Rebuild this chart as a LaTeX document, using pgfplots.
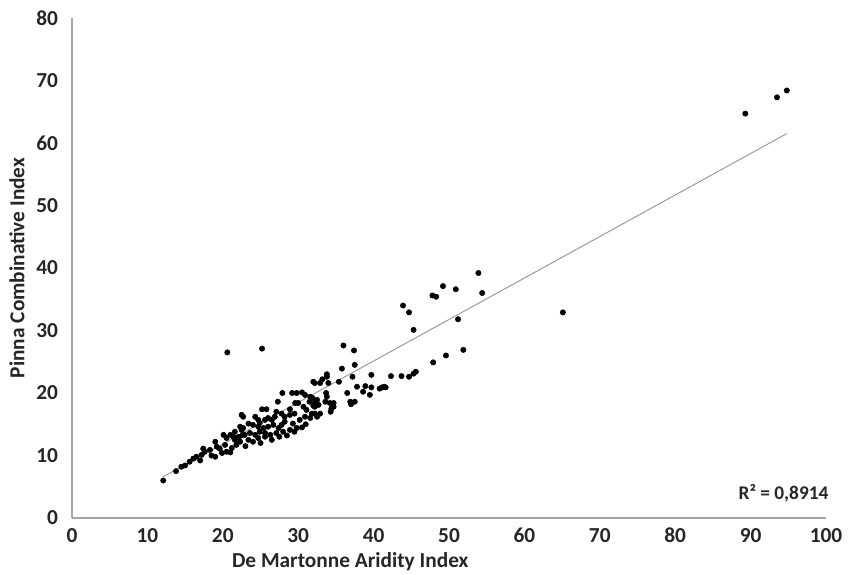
\documentclass[border=0pt]{standalone}
\usepackage{pgfplots}
\pgfplotsset{compat=1.18}
\usepackage{fontspec}
\setmainfont{Carlito}

\definecolor{axgray}{HTML}{A6A6A6}
\definecolor{txt}{HTML}{262626}

\begin{document}
\begin{tikzpicture}
  % picture frame: 866 x 574 px at 0.75pt per px
  \useasboundingbox (-54pt,-42pt) rectangle (595.5pt,388.5pt);
  \begin{axis}[
    at={(0,0)}, anchor=south west,
    scale only axis,
    width=565.5pt, height=375pt,
    xmin=0, xmax=100, ymin=0, ymax=80,
    xtick={0,10,...,100}, ytick={0,10,...,80},
    axis lines=left,
    axis line style={-, axgray, line width=0.9pt},
    major tick length=0pt,
    tick label style={font=\fontsize{16}{19}\selectfont\bfseries, text=txt},
    /pgf/number format/assume math mode=true,
    yticklabel style={xshift=-7pt},
    xticklabel style={yshift=-4pt},
    xlabel={De Martonne Aridity Index},
    ylabel={Pinna Combinative Index},
    label style={font=\fontsize{16}{19}\selectfont\bfseries, text=txt},
    xlabel style={at={(axis description cs:0.369,0)}, anchor=north, yshift=-22pt},
    ylabel style={at={(axis description cs:0,0.5)}, anchor=south, yshift=32pt},
    clip=false,
  ]

  % linear trend line
  \addplot[color=axgray!90!black, line width=0.7pt] coordinates {(12.1,6.6) (94.8,61.5)};

  % observations
  \addplot[only marks, mark=*, mark size=2pt, black] coordinates {
    (94.8,68.4) (93.5,67.3) (89.3,64.7)
    (65.1,32.9)
    (53.9,39.2) (54.4,36.0) (51.2,31.8) (51.9,26.9)
    (49.2,37.1) (50.9,36.6) (47.8,35.6) (48.3,35.4)
    (49.6,26.0) (47.9,24.9)
    (43.9,34.0) (44.7,32.9) (45.3,30.1)
    (45.3,23.1) (45.6,23.4) (44.7,22.6) (43.7,22.7) (42.3,22.7)
    (41.6,20.9) (41.4,21.0) (41.1,20.9) (40.8,20.7)
    (39.7,22.9) (39.7,20.9) (38.9,21.1) (37.8,21.0) (38.6,20.2) (39.5,19.7)
    (36.0,27.6) (37.4,26.8) (37.5,24.5) (35.8,23.9) (37.2,22.6)
    (33.8,23.0) (33.8,22.6) (34.0,21.6) (32.9,21.6) (35.4,21.8) (32.2,21.6)
    (36.5,20.0) (33.7,20.0) (33.8,19.4)
    (34.7,18.4) (34.7,17.8) (36.9,18.6) (37.0,18.2) (37.5,18.6)
    (32.5,18.9) (32.2,18.4) (32.7,18.1) (33.6,18.6) (34.2,18.4) (34.4,17.5) (34.3,17.0) (32.2,16.7)
    (20.6,26.5) (25.2,27.1)
    (32.0,21.8) (33.2,22.2) (27.9,20.0) (29.2,20.0) (29.8,20.0) (30.5,20.1) (30.9,19.7) (31.6,19.4) (31.9,19.2)
    (27.3,18.6) (29.6,18.4) (30.0,18.4) (31.5,18.6) (32.0,18.0)
    (25.2,17.4) (25.8,17.4) (27.1,17.0) (27.8,16.7) (28.2,16.2) (28.9,16.5) (29.5,16.7) (30.7,17.8) (31.1,17.3) (31.8,16.7) (32.2,17.8)
    (22.5,16.5) (22.7,16.2) (24.3,16.2) (24.7,15.7) (25.6,15.7) (26.0,16.0) (26.5,15.7)
    (28.2,15.4) (29.3,15.1) (30.2,15.7) (30.9,16.2) (31.6,16.0) (32.5,16.2) (32.9,16.7)
    (23.4,15.1) (24.0,14.9) (24.7,14.6) (25.4,14.4) (26.0,14.6) (26.7,14.9) (27.4,14.4) (27.8,14.9)
    (21.6,13.8) (22.5,14.1) (22.1,13.0) (22.9,13.3) (23.6,13.6) (24.3,13.3) (24.9,13.8) (25.6,13.6) (26.3,13.3) (27.1,13.6) (28.0,13.8) (28.9,14.1) (29.8,14.4)
    (21.6,12.5) (22.3,12.2) (23.4,12.5) (24.0,12.2) (24.7,12.8) (25.6,13.0)
    (16.1,9.5) (16.5,9.8) (17.4,11.1) (17.6,10.6) (18.3,10.9) (17.2,10.1) (19.0,12.2) (19.2,11.4) (19.6,11.1) (20.3,11.7)
    (20.1,13.3) (20.5,12.8) (21.0,13.3) (21.4,13.0) (19.9,10.4) (20.5,10.6) (21.2,11.2) (21.8,11.7) (22.1,12.8) (22.6,13.3)
    (22.3,14.6) (22.7,14.4)
    (14.5,8.2) (15.6,9.0) (12.1,6.0) (13.8,7.5) (15.0,8.4)
    (26.5,12.5) (27.5,13.0) (28.5,13.2) (29.5,13.8) (30.5,14.5) (31.0,15.0) (25.0,12.0) (23.0,11.5) (21.0,10.5)
    (18.5,10.0) (19.0,9.8) (17.0,9.2) (28.9,17.4) (26.9,16.2) (24.9,15.2)
  };

  \node[anchor=east, inner sep=0pt, xshift=2pt, font=\fontsize{14.5}{17}\selectfont\bfseries, text=txt]
    at (axis cs:100,4.0) {R² = 0,8914};
  \end{axis}
\end{tikzpicture}
\end{document}
